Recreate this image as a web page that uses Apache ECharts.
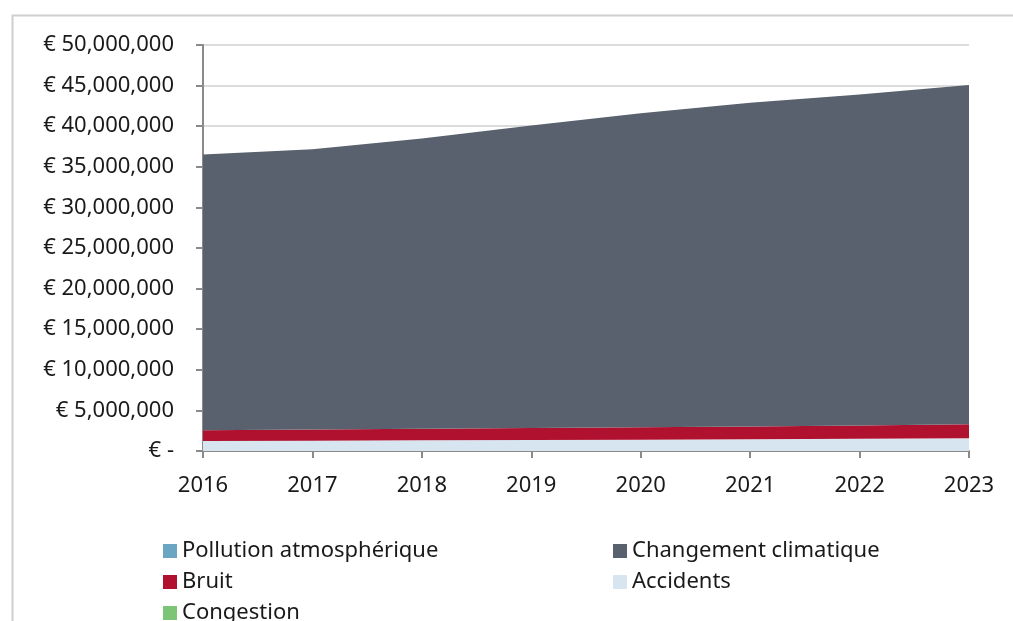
<!DOCTYPE html>
<html>
<head>
<meta charset="utf-8">
<style>
  html, body { margin: 0; padding: 0; background: #fff; }
  #chart { width: 1013px; height: 621px; }
</style>
<script src="https://cdn.jsdelivr.net/npm/echarts@6/dist/echarts.min.js"></script>
</head>
<body>
<div id="chart"></div>
<script>
const years = ['2016', '2017', '2018', '2019', '2020', '2021', '2022', '2023'];
const pollution = [0, 0, 0, 0, 0, 0, 0, 0];
const climat = [33950000, 34510000, 35770000, 37260000, 38670000, 39870000, 40750000, 41780000];
const bruit = [1320000, 1370000, 1420000, 1480000, 1530000, 1580000, 1650000, 1730000];
const accidents = [1230000, 1270000, 1310000, 1360000, 1400000, 1450000, 1500000, 1560000];
const congestion = [0, 0, 0, 0, 0, 0, 0, 0];

const FONT = 'Noto Sans';
const chart = echarts.init(document.getElementById('chart'));

function fmt(v) {
  if (v === 0) return '€ -';
  return '€ ' + v.toString().replace(/\B(?=(\d{3})+(?!\d))/g, ',');
}

function area(name, data, color) {
  return {
    name: name, type: 'line', stack: 'total', data: data,
    symbol: 'none', smooth: false,
    lineStyle: { width: 0, color: color },
    itemStyle: { color: color },
    areaStyle: { color: color, opacity: 1 },
    emphasis: { disabled: true }
  };
}

const legendText = { fontFamily: FONT, fontSize: 22, color: '#1a1a1a', lineHeight: 24 };

chart.setOption({
  animation: false,
  graphic: [{
    type: 'rect', left: 10, top: 13,
    shape: { width: 1100, height: 700 },
    style: { fill: 'none', stroke: '#cfcfcf', lineWidth: 2 },
    silent: true, z: -1
  }],
  grid: { left: 203, right: 44, top: 45, bottom: 170, containLabel: false },
  xAxis: {
    type: 'category', data: years, boundaryGap: false,
    axisLine: { lineStyle: { color: '#8a8a8a', width: 2 } },
    axisTick: { alignWithLabel: true, length: 7, lineStyle: { color: '#8a8a8a', width: 2 } },
    axisLabel: { fontFamily: FONT, fontSize: 22, color: '#1a1a1a', margin: 24 },
    splitLine: { show: false }
  },
  yAxis: {
    type: 'value', min: 0, max: 50000000, interval: 5000000,
    axisLine: { show: true, lineStyle: { color: '#8a8a8a', width: 2 } },
    axisTick: { show: true, length: 7, lineStyle: { color: '#8a8a8a', width: 2 } },
    axisLabel: { fontFamily: FONT, fontSize: 22, color: '#1a1a1a', margin: 29, formatter: fmt },
    splitLine: { lineStyle: { color: '#dcdcdc', width: 2 } }
  },
  legend: [
    {
      orient: 'vertical', left: 158, top: 534, height: 120, itemGap: 7,
      itemWidth: 14, itemHeight: 14, icon: 'rect',
      textStyle: legendText,
      data: ['Pollution atmosphérique', 'Bruit', 'Congestion']
    },
    {
      orient: 'vertical', left: 608, top: 534, height: 120, itemGap: 7,
      itemWidth: 14, itemHeight: 14, icon: 'rect',
      textStyle: legendText,
      data: ['Changement climatique', 'Accidents']
    }
  ],
  series: [
    area('Congestion', congestion, '#7cc576'),
    area('Pollution atmosphérique', pollution, '#6aa6c4'),
    area('Accidents', accidents, '#d7e5f1'),
    area('Bruit', bruit, '#b0112e'),
    area('Changement climatique', climat, '#58616d')
  ]
});
</script>
</body>
</html>
